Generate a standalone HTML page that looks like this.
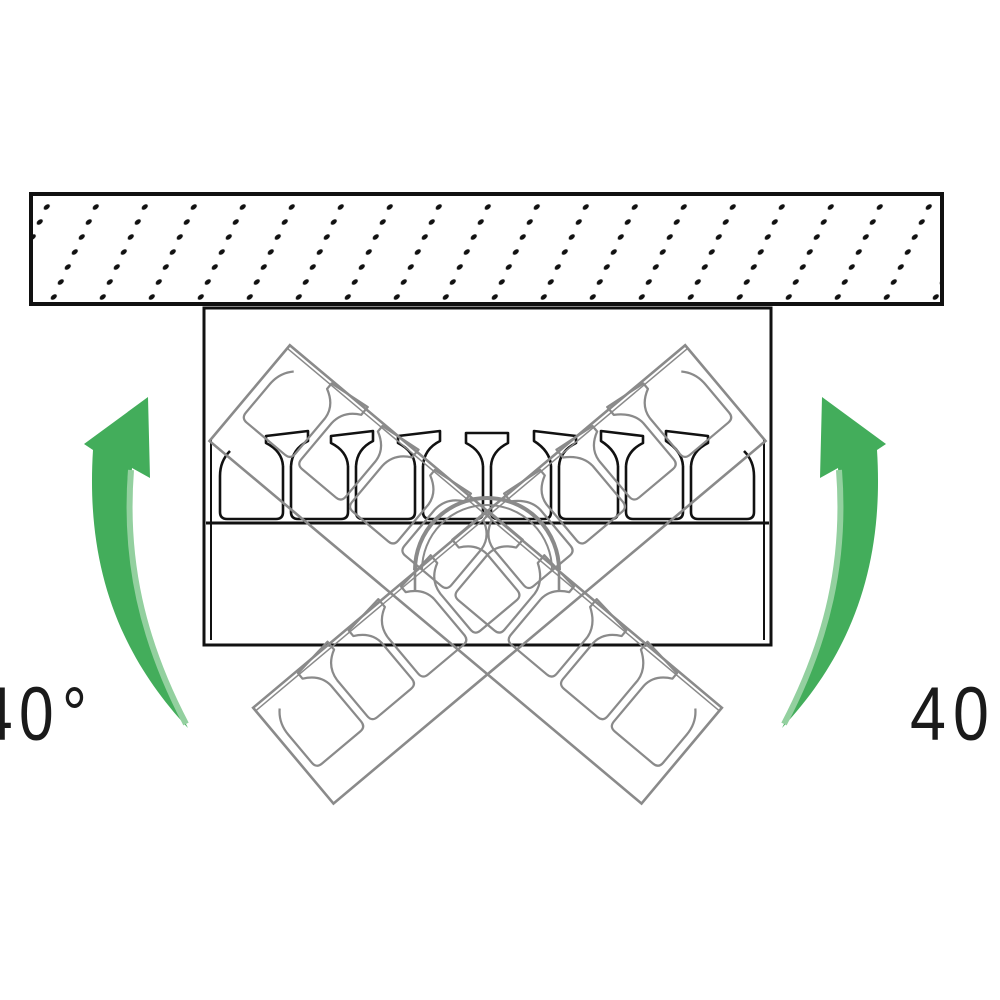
<!DOCTYPE html>
<html><head><meta charset="utf-8"><style>html,body{margin:0;padding:0;background:#fff}svg{display:block}</style></head>
<body>
<svg width="1000" height="1000" viewBox="0 0 1000 1000" xmlns="http://www.w3.org/2000/svg">
<defs>
<pattern id="dots" width="49" height="15" patternUnits="userSpaceOnUse" patternTransform="translate(40,200) skewX(-25)">
<circle cx="10" cy="7" r="2.8" fill="#111"/>
</pattern>
<g id="rack">
<path d="
M -257 -68 Q -267 -58 -267 -43 L -267 -7 Q -267 0 -260 0 L -211 0 Q -204 0 -204 -7 L -204 -53
M -196 -53 L -196 -7 Q -196 0 -189 0 L -146 0 Q -139 0 -139 -7 L -139 -53
M -131 -53 L -131 -7 Q -131 0 -124 0 L -79 0 Q -72 0 -72 -7 L -72 -53
M -64 -53 L -64 -7 Q -64 0 -57 0 L -11 0 Q -4 0 -4 -7 L -4 -53
M 4 -53 L 4 -7 Q 4 0 11 0 L 57 0 Q 64 0 64 -7 L 64 -53
M 72 -53 L 72 -7 Q 72 0 79 0 L 124 0 Q 131 0 131 -7 L 131 -53
M 139 -53 L 139 -7 Q 139 0 146 0 L 189 0 Q 196 0 196 -7 L 196 -53
M 204 -53 L 204 -7 Q 204 0 211 0 L 260 0 Q 267 0 267 -7 L 267 -43 Q 267 -58 257 -68
M -204 -53 Q -205 -68 -221 -76 L -221 -83 L -179 -88 L -179 -78 Q -195 -70 -196 -53
M -139 -53 Q -140 -68 -156 -76 L -156 -83 L -114 -88 L -114 -78 Q -130 -70 -131 -53
M -72 -53 Q -73 -68 -89 -76 L -89 -83 L -47 -88 L -47 -78 Q -63 -70 -64 -53
M -4 -53 Q -5 -68 -21 -76 L -21 -86 L 21 -86 L 21 -76 Q 5 -68 4 -53
M 64 -53 Q 63 -68 47 -78 L 47 -88 L 89 -83 L 89 -76 Q 73 -68 72 -53
M 131 -53 Q 130 -68 114 -78 L 114 -88 L 156 -83 L 156 -76 Q 140 -68 139 -53
M 196 -53 Q 195 -68 179 -78 L 179 -88 L 221 -83 L 221 -76 Q 205 -68 204 -53
" fill="none" stroke-linejoin="round"/>
</g>
</defs>

<rect x="31" y="194" width="911" height="110" fill="url(#dots)" stroke="#111" stroke-width="4"/>

<g stroke="#111" stroke-width="3" fill="none">
<rect x="204" y="308" width="567" height="337"/>
<line x1="206" y1="523" x2="769" y2="523"/>
<line x1="211" y1="440" x2="211" y2="640" stroke-width="2"/>
<line x1="764" y1="440" x2="764" y2="640" stroke-width="2"/>
</g>
<use href="#rack" transform="translate(487,519)" stroke="#111" stroke-width="2.6"/>

<g stroke="#8a8a8a" stroke-width="2.6" fill="none">
<g transform="translate(466,574) rotate(40)">
<rect x="-282" y="-62" width="564" height="125"/>
<line x1="-282" y1="-58" x2="282" y2="-58" stroke-width="1.5"/>
<use href="#rack" transform="translate(0,25) scale(1.02)" stroke="#8a8a8a" stroke-width="2.2"/>
</g>
<g transform="translate(509,574) rotate(-40)">
<rect x="-282" y="-62" width="564" height="125"/>
<line x1="-282" y1="-58" x2="282" y2="-58" stroke-width="1.5"/>
<use href="#rack" transform="translate(0,25) scale(1.02)" stroke="#8a8a8a" stroke-width="2.2"/>
</g>
<path d="M 415 570 A 72 72 0 0 1 559 570" stroke-width="4"/>
<path d="M 422 570 A 65 65 0 0 1 552 570" stroke-width="2"/>
<line x1="415" y1="570" x2="415" y2="590"/>
<line x1="559" y1="570" x2="559" y2="590"/>
</g>

<g>
<path d="M 188 728 C 115 650 86 560 93 450 L 84 444 L 148 397 L 150 478 L 132 468 C 125 560 142 640 188 728 Z" fill="#43ad5b"/>
<path d="M 131 470 C 124 560 142 640 186 724" fill="none" stroke="#93d09f" stroke-width="6"/>
<path d="M 782 728 C 855 650 884 560 877 450 L 886 444 L 822 397 L 820 478 L 838 468 C 845 560 828 640 782 728 Z" fill="#43ad5b"/>
<path d="M 839 470 C 846 560 828 640 784 724" fill="none" stroke="#93d09f" stroke-width="6"/>
</g>

<g font-family="Liberation Sans, sans-serif" font-size="76" fill="#1a1a1a">
<text transform="translate(-22,740) scale(0.82,1)">4</text>
<text transform="translate(19,740) scale(0.82,1)">0</text>
<text transform="translate(62,740) scale(0.82,1)">°</text>
<text transform="translate(910,740) scale(0.85,1)">4</text>
<text transform="translate(953,740) scale(0.85,1)">0</text>
</g>
</svg>
</body></html>
